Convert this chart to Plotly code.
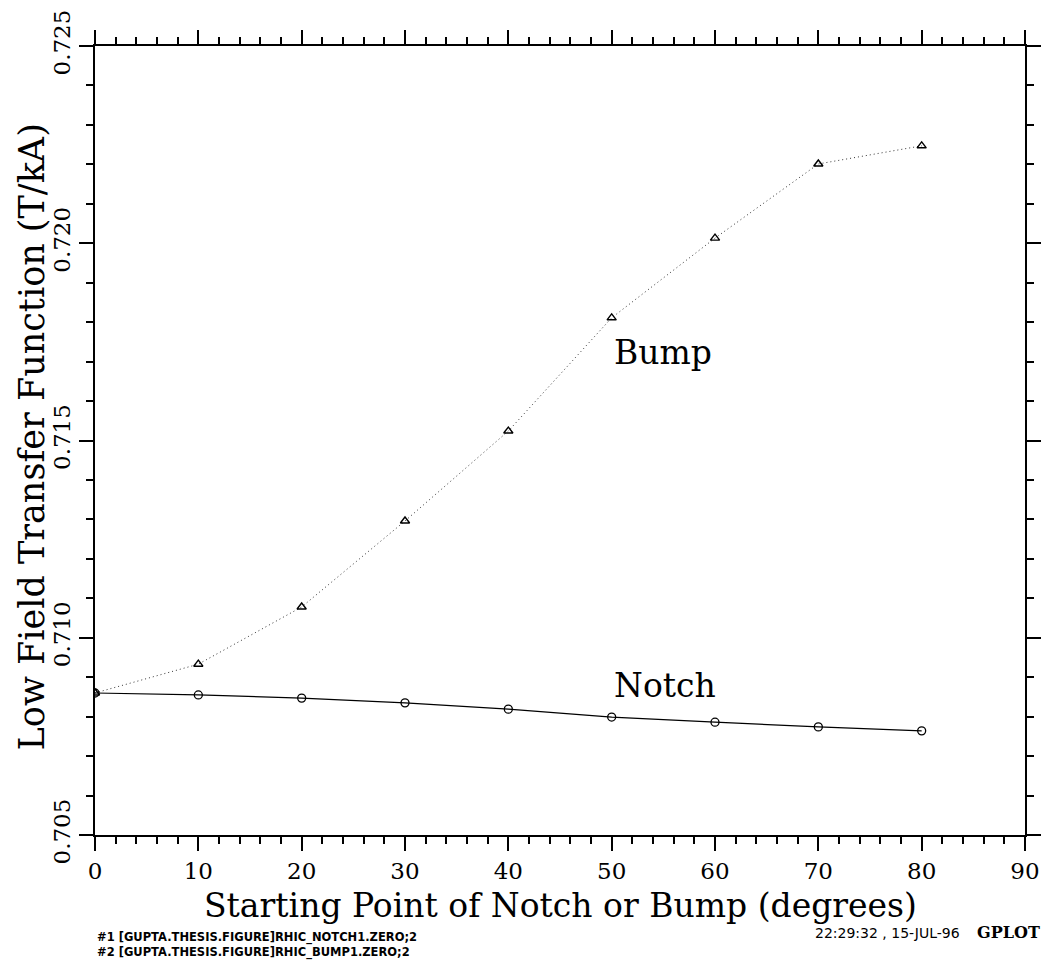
import plotly.graph_objects as go

x_deg = [0, 10, 20, 30, 40, 50, 60, 70, 80]
notch = [0.70860, 0.70855, 0.70847, 0.70835, 0.70819, 0.70799, 0.70786, 0.70774, 0.70764]
bump = [0.70860, 0.70933, 0.71078, 0.71296, 0.71524, 0.71811, 0.72013, 0.72201, 0.72247]
y_ticks = [0.705, 0.710, 0.715, 0.720, 0.725]
x_ticks = [0, 10, 20, 30, 40, 50, 60, 70, 80, 90]

FONT = "DejaVu Serif"

fig = go.Figure()
fig.add_trace(go.Scatter(
    x=x_deg, y=bump, mode="lines+markers",
    line=dict(color="#333333", width=1, dash="1px,3px"),
    marker=dict(symbol="triangle-up-open", size=8, color="black", line=dict(width=1.4)),
    showlegend=False))
fig.add_trace(go.Scatter(
    x=x_deg, y=notch, mode="lines+markers",
    line=dict(color="black", width=1.2),
    marker=dict(symbol="circle-open", size=8, color="black", line=dict(width=1.3)),
    showlegend=False))

fig.add_annotation(x=50, y=0.71724, text="Bump", showarrow=False, xanchor="left",
                   font=dict(family=FONT, size=33, color="black"))
fig.add_annotation(x=50, y=0.70878, text="Notch", showarrow=False, xanchor="left",
                   font=dict(family=FONT, size=33, color="black"))

# axis titles
fig.add_annotation(xref="paper", yref="paper", x=0.5, y=-0.0888, xanchor="center", yanchor="middle",
                   text="Starting Point of Notch or Bump (degrees)", showarrow=False,
                   font=dict(family=FONT, size=33, color="black"))
fig.add_annotation(xref="paper", yref="paper", x=-0.0677, y=0.504, xanchor="center", yanchor="middle",
                   text="Low Field Transfer Function (T/kA)", showarrow=False, textangle=-90,
                   font=dict(family=FONT, size=35, color="black"))

# footer
fig.add_annotation(xref="paper", yref="paper", x=0, y=-0.1183, xanchor="left", yanchor="top",
                   text="<b>#1 [GUPTA.THESIS.FIGURE]RHIC_NOTCH1.ZERO;2<br>#2 [GUPTA.THESIS.FIGURE]RHIC_BUMP1.ZERO;2</b>",
                   showarrow=False, align="left",
                   font=dict(family="DejaVu Sans", size=11.5, color="black"))
fig.add_annotation(xref="paper", yref="paper", x=0.9323, y=-0.1242, xanchor="right", yanchor="middle",
                   text="22:29:32 , 15-JUL-96", showarrow=False,
                   font=dict(family="DejaVu Sans", size=14, color="black"))
fig.add_annotation(xref="paper", yref="paper", x=1.0183, y=-0.1230, xanchor="right", yanchor="middle",
                   text="<b>GPLOT</b>", showarrow=False,
                   font=dict(family="DejaVu Serif", size=16, color="black"))

axis_common = dict(
    showline=True, linecolor="black", linewidth=2, mirror="ticks",
    ticks="outside", tickcolor="black", tickwidth=2, ticklen=14,
    showgrid=False, zeroline=False, automargin=False,
)

fig.update_xaxes(
    range=[0, 90], tickvals=x_ticks, ticktext=[str(v) for v in x_ticks],
    tickfont=dict(family=FONT, size=23, color="black"),
    minor=dict(dtick=2, ticks="outside", ticklen=7, tickwidth=2, tickcolor="black", showgrid=False),
    **axis_common)
fig.update_yaxes(
    range=[0.705, 0.725], tickvals=y_ticks, ticktext=[f"{v:.3f}" for v in y_ticks],
    tickangle=-90, tickfont=dict(family=FONT, size=23, color="black"),
    minor=dict(dtick=0.001, ticks="outside", ticklen=7, tickwidth=2, tickcolor="black", showgrid=False),
    **axis_common)

fig.update_layout(
    width=1049, height=963,
    margin=dict(l=95, r=24, t=46, b=128),
    plot_bgcolor="white", paper_bgcolor="white",
)

fig.write_html("out.html")
